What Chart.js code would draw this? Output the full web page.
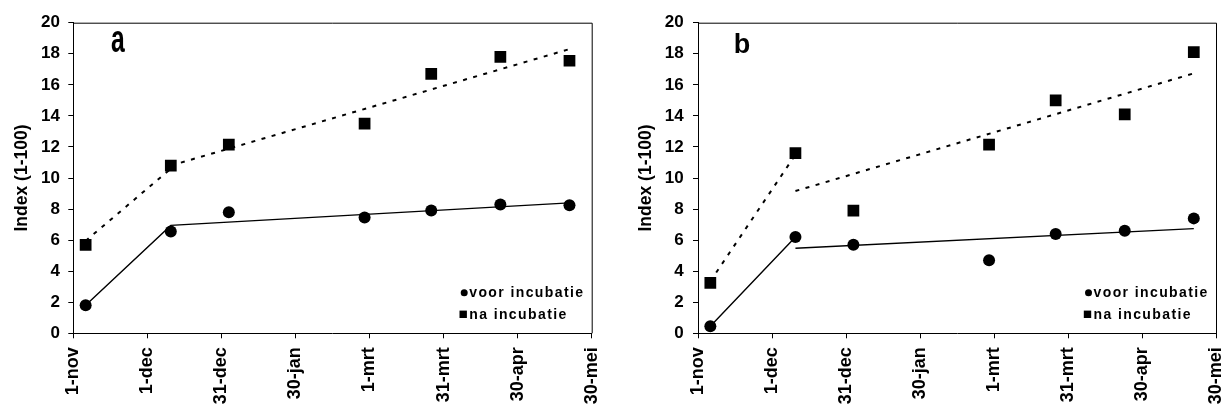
<!DOCTYPE html>
<html>
<head>
<meta charset="utf-8">
<script src="https://cdn.jsdelivr.net/npm/chart.js@4.4.1/dist/chart.umd.min.js"></script>
<style>
html,body{margin:0;padding:0;background:#fff;}
.p{position:absolute;top:0;width:612px;height:412px;}
#wa{left:0;}
#wb{left:612px;}
</style>
</head>
<body>
<div class="p" id="wa"><canvas id="ca" width="612" height="412"></canvas></div>
<div class="p" id="wb"><canvas id="cb" width="612" height="412"></canvas></div>
<script>
// ---- data (x = days since 1 November) ----
const tickLabels = ['1-nov', '1-dec', '31-dec', '30-jan', '1-mrt', '31-mrt', '30-apr', '30-mei'];
const sampleDays = [5, 39.5, 63, 118, 145, 173, 201];

const aVoor = [1.8, 6.55, 7.8, 7.45, 7.9, 8.3, 8.25];
const aNa   = [5.7, 10.8, 12.15, 13.5, 16.7, 17.8, 17.55];
const bVoor = [0.45, 6.2, 5.7, 4.7, 6.4, 6.6, 7.4];
const bNa   = [3.25, 11.6, 7.9, 12.15, 15.0, 14.1, 18.1];

// trend lines (two segments, separated by a gap)
const aVoorFitX = [5, 39.5, 201];
const aVoorFitY = [1.8, 6.95, 8.4];
const aNaFitX   = [5, 39.5, null, 39.5, 201];
const aNaFitY   = [5.95, 10.6, null, 10.8, 18.3];
const bVoorFitX = [5, 39.5, null, 39.5, 201];
const bVoorFitY = [0.45, 6.2, null, 5.48, 6.74];
const bNaFitX   = [5, 39.5, null, 39.5, 201];
const bNaFitY   = [3.35, 11.5, null, 9.16, 16.74];

const legendLabels = ['voor incubatie', 'na incubatie'];
const panelLetters = ['a', 'b'];

const FONT = '"Liberation Sans", Arial, Helvetica, sans-serif';

function pts(xs, ys) {
  return xs.map((x, i) => (x === null ? {x: null, y: null} : {x: x, y: ys[i]}));
}

const decoPlugin = {
  id: 'deco',
  afterDatasetsDraw(chart, args, opts) {
    const ctx = chart.ctx;
    const ca = chart.chartArea;
    ctx.save();
    // frame
    ctx.strokeStyle = '#000';
    ctx.lineWidth = 1;
    ctx.beginPath();
    ctx.moveTo(ca.left, ca.top + 0.5);
    ctx.lineTo(ca.right + 0.5, ca.top + 0.5);
    ctx.lineTo(ca.right + 0.5, ca.bottom);
    ctx.stroke();
    // panel letter
    ctx.fillStyle = '#000';
    ctx.save();
    ctx.font = 'bold ' + opts.letterSize + 'px ' + FONT;
    ctx.textBaseline = 'alphabetic';
    ctx.textAlign = 'left';
    ctx.translate(ca.left + opts.letterDx, ca.top + opts.letterDy);
    ctx.scale(opts.letterScaleX, opts.letterScaleY);
    ctx.fillText(opts.letter, 0, 0);
    ctx.restore();
    // legend
    ctx.font = 'bold 14px ' + FONT;
    ctx.textAlign = 'left';
    ctx.textBaseline = 'alphabetic';
    try { ctx.letterSpacing = '1.4px'; } catch (e) {}
    const items = chart.data.datasets.filter(d => d.legendItem);
    items.forEach((d, i) => {
      const cx = ca.right - 128.5;
      const cy = ca.bottom - 40.5 + i * 21.5;
      ctx.beginPath();
      if (d.pointStyle === 'circle') {
        ctx.arc(cx + 1, cy, 3.5, 0, Math.PI * 2);
      } else {
        ctx.rect(cx - 3.7, cy - 3.7, 7.4, 7.4);
      }
      ctx.fill();
      ctx.fillText(d.label, ca.right - 122.5, cy + 4.2);
    });
    ctx.restore();
  }
};

function makeChart(canvasId, voor, na, voorFit, naFit, cfg) {
  const datasets = [
    {
      type: 'scatter', label: 'voor trend', data: voorFit, showLine: true,
      borderColor: '#000', borderWidth: 1.4, pointRadius: 0, spanGaps: false, fill: false, order: 3
    },
    {
      type: 'scatter', label: 'na trend', data: naFit, showLine: true,
      borderColor: '#000', borderWidth: 2, borderDash: [4, 6.5], pointRadius: 0, spanGaps: false, fill: false, order: 3
    },
    {
      type: 'scatter', label: legendLabels[0], legendItem: true,
      data: sampleDays.map((d, i) => ({x: d, y: voor[i]})),
      pointStyle: 'circle', pointRadius: 6, pointHoverRadius: 6, pointBorderWidth: 0,
      backgroundColor: '#000', borderColor: '#000', showLine: false, order: 1
    },
    {
      type: 'scatter', label: legendLabels[1], legendItem: true,
      data: sampleDays.map((d, i) => ({x: d, y: na[i]})),
      pointStyle: 'rect', pointRadius: 8.3, pointHoverRadius: 8.3, pointBorderWidth: 0,
      backgroundColor: '#000', borderColor: '#000', showLine: false, order: 1
    }
  ];
  return new Chart(document.getElementById(canvasId), {
    type: 'scatter',
    data: {datasets: datasets},
    options: {
      responsive: false,
      animation: false,
      devicePixelRatio: 1,
      events: [],
      layout: {autoPadding: false, padding: {top: 22.7, right: cfg.padRight, bottom: 0, left: 0}},
      plugins: {
        legend: {display: false},
        tooltip: {enabled: false},
        deco: {
          letter: cfg.letter, letterSize: cfg.letterSize, letterDx: cfg.letterDx, letterDy: cfg.letterDy,
          letterScaleX: cfg.letterScaleX, letterScaleY: cfg.letterScaleY
        }
      },
      scales: {
        x: {
          type: 'linear', min: 0, max: 210,
          afterFit: s => { s.height = 78.7; s.paddingLeft = 0; s.paddingRight = 0; },
          afterBuildTicks: s => { s.ticks = tickLabels.map((t, i) => ({value: i * 30})); },
          grid: {display: true, drawOnChartArea: false, drawTicks: true, tickLength: 5, color: '#000', tickColor: '#000'},
          border: {display: true, color: '#000', width: 1},
          ticks: {
            autoSkip: false, maxRotation: 90, minRotation: 90, padding: 9, color: '#000',
            font: {family: FONT, size: 18, weight: 'bold'},
            callback: v => tickLabels[Math.round(v / 30)]
          }
        },
        y: {
          min: 0, max: 20,
          afterFit: s => { s.width = cfg.yWidth; s.paddingTop = 0; s.paddingBottom = 0; },
          grid: {display: true, drawOnChartArea: false, drawTicks: true, tickLength: 5, color: '#000', tickColor: '#000'},
          border: {display: true, color: '#000', width: 1},
          ticks: {stepSize: 2, padding: cfg.yTickPad, color: '#000', font: {family: FONT, size: 17, weight: 'bold'}},
          title: {
            display: true, text: 'Index (1-100)', color: '#000',
            font: {family: FONT, size: 17.5, weight: 'bold'},
            padding: {top: cfg.titlePad, bottom: 0}
          }
        }
      }
    },
    plugins: [decoPlugin]
  });
}

makeChart('ca', aVoor, aNa, pts(aVoorFitX, aVoorFitY), pts(aNaFitX, aNaFitY), {
  padRight: 20.3, yWidth: 73.3, yTickPad: 8.3, titlePad: 12,
  letter: panelLetters[0], letterSize: 26, letterDx: 37.7, letterDy: 29.3, letterScaleX: 0.95, letterScaleY: 1.5
});
makeChart('cb', bVoor, bNa, pts(bVoorFitX, bVoorFitY), pts(bNaFitX, bNaFitY), {
  padRight: 8, yWidth: 86, yTickPad: 9.3, titlePad: 24,
  letter: panelLetters[1], letterSize: 27, letterDx: 35.7, letterDy: 30.3, letterScaleX: 1, letterScaleY: 1
});
</script>
</body>
</html>
